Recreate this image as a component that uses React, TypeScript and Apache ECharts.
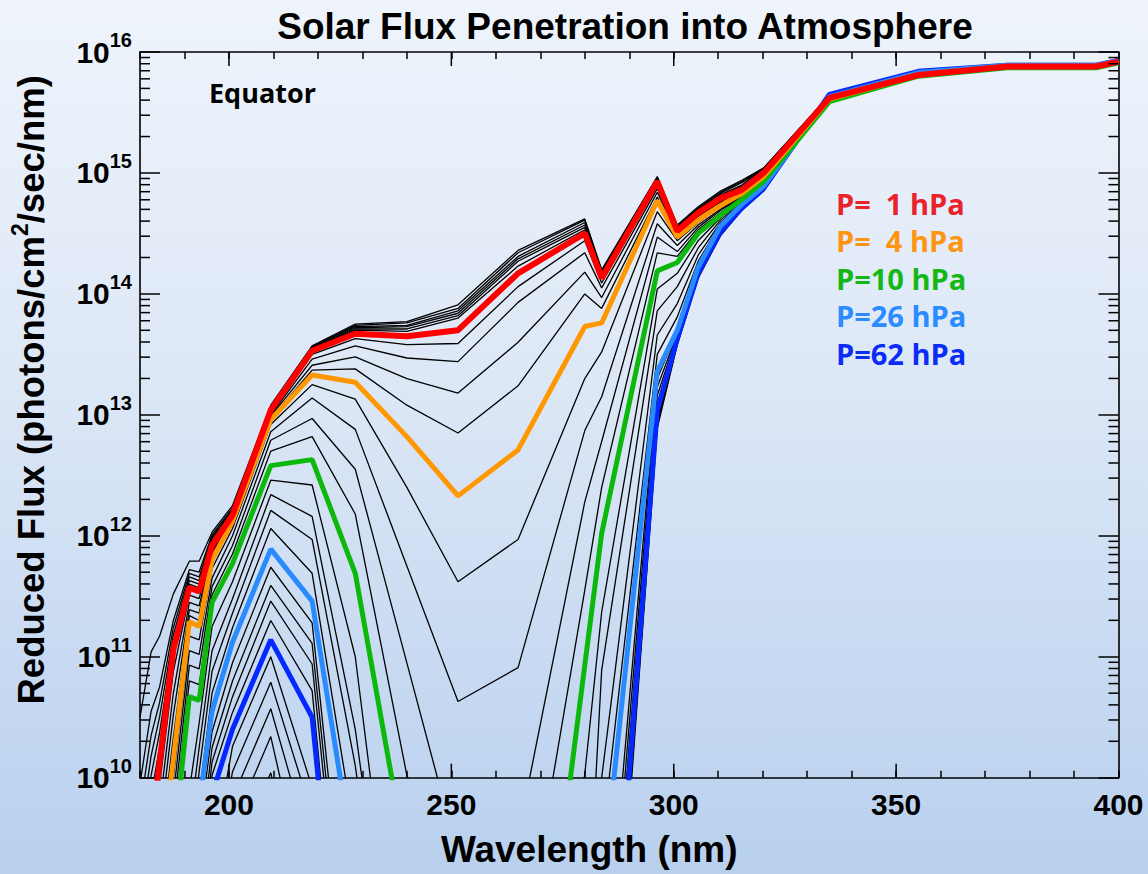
import React, { useEffect, useRef } from 'react';
import * as echarts from 'echarts';

// Wavelength grid (nm)
const WAVELENGTH = [180, 182.5, 184.4, 187.5, 191.1, 193.3, 196.2, 200.8, 209.4, 218.7, 228.4, 240, 251.5, 265, 280, 283.8, 296.3, 300.8, 305.5, 310.5, 315.3, 320.2, 335, 355, 375, 395, 400];

// log10 of reduced flux for each level (top of atmosphere -> deeper)
const T1 = [10.5, 11.04, 11.17, 11.52, 11.79, 11.79, 12.03, 12.25, 13.08, 13.57, 13.75, 13.77, 13.91, 14.36, 14.62, 14.2, 14.97, 14.57, 14.72, 14.85, 14.94, 15.04, 15.64, 15.83, 15.88, 15.88, 15.92];
const T2 = [9.95, 10.55, 10.75, 11.3, 11.72, 11.7, 12.01, 12.23, 13.07, 13.56, 13.74, 13.76, 13.88, 14.34, 14.61, 14.19, 14.96, 14.56, 14.71, 14.84, 14.93, 15.04, 15.64, 15.83, 15.88, 15.88, 15.92];
const T3 = [9.75, 10.35, 10.62, 11.24, 11.69, 11.66, 11.99, 12.22, 13.07, 13.56, 13.73, 13.74, 13.86, 14.31, 14.59, 14.18, 14.96, 14.56, 14.7, 14.83, 14.92, 15.03, 15.64, 15.83, 15.88, 15.88, 15.92];
const T4 = [9.55, 10.18, 10.5, 11.18, 11.66, 11.63, 11.98, 12.21, 13.06, 13.55, 13.72, 13.73, 13.84, 14.29, 14.57, 14.17, 14.95, 14.55, 14.7, 14.82, 14.9, 15.03, 15.63, 15.82, 15.88, 15.88, 15.92];
const T5 = [9.35, 10.02, 10.37, 11.12, 11.63, 11.6, 11.96, 12.2, 13.06, 13.55, 13.71, 13.71, 13.82, 14.27, 14.55, 14.16, 14.95, 14.54, 14.69, 14.81, 14.89, 15.02, 15.63, 15.82, 15.88, 15.88, 15.92];
const T6 = [9.2, 9.85, 10.25, 11.08, 11.6, 11.57, 11.95, 12.19, 13.05, 13.54, 13.7, 13.69, 13.8, 14.23, 14.53, 14.15, 14.94, 14.53, 14.68, 14.8, 14.88, 15.01, 15.63, 15.82, 15.88, 15.88, 15.92];
const P1 = [8.9, 9.55, 10.12, 11.06, 11.57, 11.54, 11.92, 12.17, 13.04, 13.53, 13.67, 13.65, 13.7, 14.17, 14.5, 14.13, 14.93, 14.52, 14.67, 14.79, 14.86, 15.0, 15.62, 15.81, 15.88, 15.88, 15.92];
const A1 = [8.7, 9.35, 9.94, 10.88, 11.51, 11.48, 11.9, 12.16, 13.02, 13.5, 13.63, 13.58, 13.59, 14.06, 14.44, 14.09, 14.9, 14.51, 14.66, 14.78, 14.86, 14.99, 15.62, 15.81, 15.88, 15.88, 15.92];
const A2 = [8.5, 9.15, 9.76, 10.7, 11.45, 11.42, 11.88, 12.15, 13.0, 13.46, 13.57, 13.47, 13.44, 13.93, 14.34, 14.05, 14.87, 14.5, 14.65, 14.77, 14.85, 14.99, 15.62, 15.81, 15.88, 15.88, 15.92];
const A3 = [8.3, 8.95, 9.57, 10.52, 11.39, 11.36, 11.86, 12.14, 12.99, 13.41, 13.48, 13.3, 13.18, 13.6, 14.18, 13.97, 14.84, 14.49, 14.64, 14.76, 14.84, 14.98, 15.61, 15.81, 15.88, 15.88, 15.92];
const A4 = [8.1, 8.75, 9.38, 10.33, 11.34, 11.3, 11.83, 12.13, 12.97, 13.37, 13.38, 13.08, 12.85, 13.24, 14.0, 13.88, 14.8, 14.48, 14.62, 14.75, 14.84, 14.98, 15.61, 15.81, 15.88, 15.88, 15.92];
const P4 = [7.9, 8.6, 9.2, 10.15, 11.29, 11.25, 11.8, 12.12, 12.96, 13.33, 13.27, 12.82, 12.33, 12.71, 13.73, 13.76, 14.77, 14.47, 14.61, 14.73, 14.83, 14.97, 15.61, 15.81, 15.88, 15.88, 15.92];
const C1 = [7.7, 8.4, 9.0, 10.0, 11.17, 11.14, 11.73, 12.06, 12.92, 13.25, 13.13, 12.4, 11.62, 11.97, 13.3, 13.52, 14.68, 14.44, 14.59, 14.72, 14.82, 14.96, 15.61, 15.81, 15.88, 15.88, 15.92];
const C2 = [7.5, 8.2, 8.8, 9.85, 11.05, 11.02, 11.65, 12.0, 12.86, 13.14, 12.88, 11.75, 10.63, 10.91, 12.87, 13.15, 14.58, 14.4, 14.57, 14.7, 14.81, 14.95, 15.6, 15.81, 15.88, 15.88, 15.92];
const C3 = [7.3, 8.0, 8.6, 9.7, 10.93, 10.9, 11.58, 11.92, 12.79, 12.97, 12.55, 10.95, 9.36, 9.52, 12.28, 12.78, 14.47, 14.35, 14.55, 14.69, 14.8, 14.95, 15.6, 15.8, 15.87, 15.87, 15.91];
const C4 = [7.1, 7.85, 8.45, 9.55, 10.8, 10.77, 11.51, 11.85, 12.7, 12.82, 12.18, 10.02, 8.9, 8.3, 11.55, 12.4, 14.34, 14.31, 14.53, 14.67, 14.79, 14.94, 15.6, 15.8, 15.87, 15.87, 15.91];
const P10 = [6.9, 7.7, 8.3, 9.4, 10.67, 10.64, 11.45, 11.77, 12.58, 12.63, 11.69, 9.3, 7.5, 6.6, 10.93, 12.02, 14.19, 14.26, 14.5, 14.65, 14.78, 14.93, 15.59, 15.8, 15.87, 15.87, 15.91];
const E1 = [6.7, 7.5, 8.1, 9.0, 9.9, 10.45, 11.25, 11.62, 12.46, 12.42, 11.0, 7.6, 7.0, 6.0, 10.03, 11.37, 14.04, 14.17, 14.44, 14.63, 14.77, 14.92, 15.59, 15.8, 15.87, 15.87, 15.91];
const E2 = [6.5, 7.3, 7.9, 8.8, 9.6, 10.25, 11.05, 11.48, 12.34, 12.16, 10.4, 7.3, 6.8, 5.7, 8.3, 10.89, 13.86, 14.06, 14.38, 14.61, 14.76, 14.92, 15.59, 15.8, 15.87, 15.87, 15.91];
const E3 = [6.3, 7.1, 7.7, 8.6, 9.35, 10.05, 10.88, 11.36, 12.21, 11.97, 10.1, 7.0, 6.6, 5.4, 7.9, 10.0, 13.66, 13.92, 14.32, 14.59, 14.75, 14.91, 15.59, 15.8, 15.87, 15.87, 15.91];
const E4 = [6.1, 6.9, 7.5, 8.4, 9.1, 9.85, 10.7, 11.24, 12.06, 11.69, 9.5, 6.8, 6.4, 5.1, 7.5, 9.45, 13.5, 13.81, 14.27, 14.58, 14.75, 14.9, 15.59, 15.8, 15.87, 15.87, 15.91];
const P26 = [5.9, 6.8, 7.4, 8.2, 8.95, 9.77, 10.55, 11.12, 11.89, 11.46, 9.22, 6.6, 6.2, 4.8, 7.2, 9.05, 13.36, 13.7, 14.22, 14.56, 14.74, 14.89, 15.63, 15.83, 15.89, 15.89, 15.93];
const F1 = [5.7, 6.6, 7.2, 8.0, 8.75, 9.55, 10.38, 10.95, 11.74, 11.28, 7.9, 6.4, 6.0, 4.6, 6.5, 8.01, 13.3, 13.69, 14.21, 14.55, 14.73, 14.89, 15.63, 15.83, 15.89, 15.89, 15.93];
const F2 = [5.5, 6.4, 7.0, 7.8, 8.55, 9.35, 10.25, 10.8, 11.59, 11.11, 7.64, 6.2, 5.8, 4.4, 6.3, 7.7, 13.23, 13.67, 14.2, 14.54, 14.73, 14.88, 15.63, 15.83, 15.89, 15.89, 15.93];
const F3 = [5.3, 6.2, 6.8, 7.6, 8.35, 9.15, 10.13, 10.67, 11.46, 10.94, 7.43, 6.0, 5.6, 4.2, 6.1, 7.44, 13.16, 13.66, 14.19, 14.53, 14.72, 14.88, 15.63, 15.83, 15.89, 15.89, 15.93];
const F4 = [5.1, 6.0, 6.6, 7.4, 8.15, 8.95, 10.02, 10.54, 11.3, 10.72, 7.04, 5.8, 5.4, 4.0, 5.9, 7.28, 13.09, 13.64, 14.18, 14.52, 14.72, 14.87, 15.63, 15.83, 15.89, 15.89, 15.93];
const P62 = [4.9, 5.8, 6.4, 7.2, 7.95, 8.8, 9.86, 10.4, 11.14, 10.5, 6.9, 5.6, 5.2, 3.8, 5.5, 7.07, 13.04, 13.63, 14.17, 14.51, 14.71, 14.87, 15.65, 15.84, 15.89, 15.89, 15.93];
const H1 = [4.7, 5.6, 6.2, 7.0, 7.75, 8.6, 9.3, 10.26, 11.0, 9.92, 6.5, 5.4, 5.0, 3.6, 5.3, 7.0, 13.01, 13.62, 14.16, 14.5, 14.71, 14.86, 15.65, 15.84, 15.89, 15.89, 15.93];
const H2 = [4.5, 5.4, 6.0, 6.8, 7.55, 8.4, 9.1, 10.05, 10.79, 9.69, 6.2, 5.2, 4.8, 3.4, 5.1, 6.9, 12.98, 13.61, 14.15, 14.5, 14.7, 14.86, 15.65, 15.84, 15.89, 15.89, 15.93];
const H3 = [4.3, 5.2, 5.8, 6.6, 7.35, 8.2, 8.9, 9.83, 10.57, 9.37, 6.0, 5.0, 4.6, 3.2, 4.9, 6.8, 12.95, 13.6, 14.15, 14.49, 14.7, 14.86, 15.65, 15.84, 15.89, 15.89, 15.93];
const H4 = [4.1, 5.0, 5.6, 6.4, 7.15, 8.0, 8.7, 9.6, 10.34, 8.83, 5.8, 4.8, 4.4, 3.0, 4.7, 6.7, 12.92, 13.59, 14.14, 14.49, 14.7, 14.85, 15.65, 15.84, 15.89, 15.89, 15.93];
const H5 = [3.9, 4.8, 5.4, 6.2, 6.95, 7.8, 8.5, 9.3, 10.04, 8.5, 5.5, 4.6, 4.2, 2.8, 4.5, 6.6, 12.89, 13.58, 14.13, 14.48, 14.69, 14.85, 15.65, 15.84, 15.89, 15.89, 15.93];

const BLACK_LINES = [T1, T2, T3, T4, T5, T6, A1, A2, A3, A4, C1, C2, C3, C4, E1, E2, E3, E4, F1, F2, F3, F4, H1, H2, H3, H4, H5];

// highlighted levels, drawn last so that red is on top
const HIGHLIGHT_NAMES = ['P=62 hPa', 'P=26 hPa', 'P=10 hPa', 'P= 4 hPa', 'P= 1 hPa'];
const HIGHLIGHT_VALUES = [P62, P26, P10, P4, P1];
const HIGHLIGHT_COLORS = ['#0428FF', '#2A8BFF', '#0CB80C', '#FF9800', '#FF0000'];

const LEGEND_TEXTS = ['P=  1 hPa', 'P=  4 hPa', 'P=10 hPa', 'P=26 hPa', 'P=62 hPa'];
const LEGEND_COLORS = ['#E9222C', '#FF9410', '#14B814', '#2B8CFF', '#0A2DF6'];

const X_MAJOR_TICKS = [200, 250, 300, 350];
const Y_DECADES = [10, 11, 12, 13, 14, 15];
const Y_MINOR_MULT = [2, 3, 4, 5, 6, 7, 8, 9];

const FONT = "'Liberation Sans', Arial, Helvetica, sans-serif";
const FONT2 = "'Open Sans', 'Noto Sans', sans-serif";

export default function App() {
  const ref = useRef<HTMLDivElement>(null);
  useEffect(() => {
    document.body.style.margin = '0';
    const chart = echarts.init(ref.current as HTMLDivElement, null, { renderer: 'svg' });

    const toData = (vals: number[]) => WAVELENGTH.map((w, i) => [w, Math.pow(10, vals[i])]);

    const blackSeries = BLACK_LINES.map((vals, k) => ({
      type: 'line',
      name: 'level ' + (k + 1),
      data: toData(vals),
      showSymbol: false,
      symbol: 'none',
      silent: true,
      clip: true,
      lineStyle: { color: '#000', width: 1.3 },
      z: 2,
    }));

    const colorSeries = HIGHLIGHT_VALUES.map((vals, k) => ({
      type: 'line',
      name: HIGHLIGHT_NAMES[k],
      data: toData(vals),
      showSymbol: false,
      symbol: 'none',
      silent: true,
      clip: true,
      lineStyle: { color: HIGHLIGHT_COLORS[k], width: k === 4 ? 6 : 5 },
      z: 3,
    }));

    const minorVals: number[] = [];
    Y_DECADES.forEach((d) => Y_MINOR_MULT.forEach((m) => minorVals.push(m * Math.pow(10, d))));

    const axisLineStyle = { color: '#000', width: 1.6 };

    const option: any = {
      animation: false,
      backgroundColor: 'transparent',
      title: {
        text: 'Solar Flux Penetration into Atmosphere',
        left: 620,
        top: 3,
        textAlign: 'center',
        textStyle: { fontFamily: FONT, fontSize: 37, fontWeight: 'bold', color: '#000' },
      },
      grid: { left: 135.5, top: 52, right: 29.5, bottom: 96.3, containLabel: false },
      xAxis: [
        {
          type: 'value', min: 180, max: 400, interval: 10, position: 'bottom',
          axisLine: { show: true, onZero: false, lineStyle: axisLineStyle },
          axisTick: { show: true, inside: true, length: 7, lineStyle: { color: '#000', width: 1.5 } },
          splitLine: { show: false },
          axisLabel: {
            formatter: (v: number) => (v % 50 === 0 ? String(v) : ''),
            fontFamily: FONT, fontSize: 30, fontWeight: 'bold', color: '#000', margin: 12,
          },
          name: 'Wavelength (nm)', nameLocation: 'middle', nameGap: 53,
          nameTextStyle: { fontFamily: FONT, fontSize: 37, fontWeight: 'bold', color: '#000', padding: [0, 80, 0, 0] },
        },
        {
          type: 'value', min: 180, max: 400, interval: 10, position: 'top',
          axisLine: { show: true, onZero: false, lineStyle: axisLineStyle },
          axisTick: { show: true, inside: true, length: 7, lineStyle: { color: '#000', width: 1.5 } },
          splitLine: { show: false },
          axisLabel: { show: false },
        },
      ],
      yAxis: [
        {
          type: 'log', logBase: 10, min: 1e10, max: 1e16, position: 'left',
          axisLine: { show: true, onZero: false, lineStyle: axisLineStyle },
          axisTick: { show: true, inside: true, length: 20, lineStyle: { color: '#000', width: 1.5 } },
          splitLine: { show: false },
          axisLabel: {
            margin: 8,
            formatter: (v: number) => '{b|10}{s|' + Math.round(Math.log10(v)) + '}',
            rich: {
              b: { fontFamily: FONT, fontSize: 30, fontWeight: 'bold', color: '#000', lineHeight: 44 },
              s: { fontFamily: FONT, fontSize: 20, fontWeight: 'bold', color: '#000', verticalAlign: 'top', lineHeight: 20 },
            },
          },
          name: '{a|Reduced Flux (photons/cm}{s|2}{a|/sec/nm)}',
          nameLocation: 'middle', nameGap: 86,
          nameTextStyle: {
            padding: [0, 0, 0, 50],
            rich: {
              a: { fontFamily: FONT, fontSize: 36.5, fontWeight: 'bold', color: '#000', lineHeight: 46 },
              s: { fontFamily: FONT, fontSize: 23, fontWeight: 'bold', color: '#000', verticalAlign: 'top', lineHeight: 23 },
            },
          },
        },
        {
          type: 'log', logBase: 10, min: 1e10, max: 1e16, position: 'right',
          axisLine: { show: true, onZero: false, lineStyle: axisLineStyle },
          axisTick: { show: true, inside: true, length: 20, lineStyle: { color: '#000', width: 1.5 } },
          splitLine: { show: false },
          axisLabel: { show: false },
        },
      ],
      graphic: [
        {
          type: 'text', x: 209, y: 92, z: 20,
          style: { text: 'Equator', fontFamily: FONT2, fontSize: 27, fontWeight: 'bold', fill: '#000', align: 'left', verticalAlign: 'middle', textAlign: 'left', textVerticalAlign: 'middle' },
        },
        ...LEGEND_TEXTS.map((t, i) => ({
          type: 'text', x: 836, y: 203 + i * 37.5, z: 20,
          style: { text: t, fontFamily: FONT2, fontSize: 29, fontWeight: 'bold', fill: LEGEND_COLORS[i], align: 'left', verticalAlign: 'middle', textAlign: 'left', textVerticalAlign: 'middle' },
        })),
      ],
      series: [
        ...blackSeries,
        ...colorSeries,
        {
          type: 'custom', name: 'minor ticks', xAxisIndex: 0, yAxisIndex: 0, silent: true, clip: false, z: 10,
          data: minorVals.map((v) => [180, v]),
          renderItem: (params: any, api: any) => {
            const v = api.value(1);
            const l = api.coord([180, v]);
            const r = api.coord([400, v]);
            return {
              type: 'group',
              children: [
                { type: 'line', shape: { x1: l[0], y1: l[1], x2: l[0] + 10, y2: l[1] }, style: { stroke: '#000', lineWidth: 1.5 } },
                { type: 'line', shape: { x1: r[0] - 10, y1: r[1], x2: r[0], y2: r[1] }, style: { stroke: '#000', lineWidth: 1.5 } },
              ],
            };
          },
        },
        {
          type: 'custom', name: 'major x ticks', xAxisIndex: 0, yAxisIndex: 0, silent: true, clip: false, z: 10,
          data: X_MAJOR_TICKS.map((x) => [x, 1e10]),
          renderItem: (params: any, api: any) => {
            const x = api.value(0);
            const b = api.coord([x, 1e10]);
            const t = api.coord([x, 1e16]);
            return {
              type: 'group',
              children: [
                { type: 'line', shape: { x1: b[0], y1: b[1], x2: b[0], y2: b[1] - 14 }, style: { stroke: '#000', lineWidth: 1.5 } },
                { type: 'line', shape: { x1: t[0], y1: t[1], x2: t[0], y2: t[1] + 14 }, style: { stroke: '#000', lineWidth: 1.5 } },
              ],
            };
          },
        },
      ],
    };

    chart.setOption(option);
    return () => chart.dispose();
  }, []);

  return (
    <div
      ref={ref}
      style={{
        position: 'absolute', left: 0, top: 0, width: 1148, height: 874,
        background: 'linear-gradient(180deg, #EFF4FB 0%, #DCE7F6 45%, #B8D0EE 100%)',
      }}
    />
  );
}
